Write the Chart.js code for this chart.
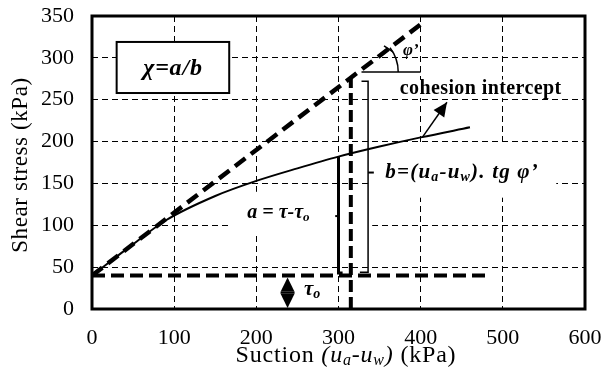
<!DOCTYPE html>
<html>
<head>
<meta charset="utf-8">
<script src="https://cdn.jsdelivr.net/npm/chart.js@4.4.1/dist/chart.umd.min.js"></script>
<style>
  html, body { margin: 0; padding: 0; background: #fff; }
</style>
</head>
<body>
<canvas id="chart" width="605" height="375"></canvas>
<script>
// values (kPa)
const xTickValues = [0, 100, 200, 300, 400, 500, 600];
const yTickValues = [0, 50, 100, 150, 200, 250, 300, 350];

const suction = [0, 50, 90, 150, 200, 250, 300, 350, 400, 460];
const shearStress = [40, 77.5, 106, 135, 153, 168, 182, 194, 205, 217];

const envelopeX = [0, 400];
const envelopeY = [40, 340];

const tau0 = 40;
const tau0LineX = [0, 480];

const suctionMark = 315;          // vertical dashed line
const suctionMarkTop = 276;
const bracketAX = 300;            // a = tau - tau0
const bracketATop = 182;
const bracketBX = 336;            // b = (ua-uw) tg phi
const bracketBTop = 272;
const phiRefY = 283;
const phiRefX = [328, 400];
const arrowFrom = [402, 205];
const arrowTo = [432, 247];
const tauArrowX = 238;

const SERIF = '"Liberation Serif", "Times New Roman", serif';

function pts(xs, ys) {
  return xs.map((x, i) => ({ x: x, y: ys[i] }));
}

function line(data, width, dash, extra) {
  return Object.assign({
    data: data,
    showLine: true,
    borderColor: '#000',
    borderWidth: width,
    borderDash: dash || [],
    pointRadius: 0,
    fill: false
  }, extra || {});
}

function richText(ctx, parts, x, y, align, spacing) {
  ctx.letterSpacing = (spacing || 0) + 'px';
  let w = 0;
  parts.forEach(p => { ctx.font = p[1]; w += ctx.measureText(p[0]).width; });
  let cx = align === 'center' ? x - w / 2 : x;
  ctx.textAlign = 'left';
  ctx.textBaseline = 'middle';
  parts.forEach(p => {
    ctx.font = p[1];
    ctx.fillText(p[0], cx, y + (p[2] || 0));
    cx += ctx.measureText(p[0]).width;
  });
  ctx.letterSpacing = '0px';
}

const BI = sz => 'italic bold ' + sz + 'px ' + SERIF;
const IT = sz => 'italic ' + sz + 'px ' + SERIF;
const RG = sz => sz + 'px ' + SERIF;

const decorations = {
  id: 'decorations',
  beforeDatasetsDraw(chart) {
    const { ctx, scales: { x, y } } = chart;
    const box = (x0, y0, x1, y1) => {
      const l = x.getPixelForValue(x0), r = x.getPixelForValue(x1);
      const t = y.getPixelForValue(y1), b = y.getPixelForValue(y0);
      ctx.fillRect(l, t, r - l, b - t);
    };
    ctx.save();
    ctx.fillStyle = '#fff';
    box(166, 92, 341, 140);   // behind a label
    box(336, 133, 565, 196);  // behind b label
    box(370, 252, 576, 274);  // behind cohesion intercept
    box(256, 12, 290, 34);    // behind tau0
    ctx.restore();
  },
  afterDatasetsDraw(chart) {
    const { ctx, scales: { x, y } } = chart;
    const px = v => x.getPixelForValue(v);
    const py = v => y.getPixelForValue(v);
    ctx.save();
    ctx.fillStyle = '#000';
    ctx.strokeStyle = '#000';

    // chi box
    const bl = px(30), br = px(167), bt = py(319), bb = py(258);
    ctx.fillStyle = '#fff';
    ctx.fillRect(bl, bt, br - bl, bb - bt);
    ctx.fillStyle = '#000';
    ctx.lineWidth = 2;
    ctx.strokeRect(bl, bt, br - bl, bb - bt);
    richText(ctx, [['\u03c7=a/b', BI(24)]], (bl + br) / 2, (bt + bb) / 2 + 1, 'center', 0.8);

    // labels
    richText(ctx, [['a = \u03c4-\u03c4', BI(20)], ['o', BI(13), 5]], px(189), py(115), 'left');
    richText(ctx, [['b=(u', BI(21)], ['a', BI(14), 5], ['-u', BI(21)], ['w', BI(14), 5], [').', BI(21)], [' tg \u03c6\u2019', BI(21)]], px(357), py(163), 'left', 1.2);
    richText(ctx, [['cohesion intercept', 'bold 20px ' + SERIF]], px(473), py(263), 'center', 0.4);
    richText(ctx, [['\u03c6\u2019', BI(17)]], px(388), py(309), 'center');
    richText(ctx, [['\u03c4', BI(21)], ['o', BI(14), 5]], px(258), py(23), 'left');

    // phi arc
    const cxp = px(324), cyp = py(phiRefY);
    const ang = Math.atan2(py(envelopeY[0]) - py(envelopeY[1]), px(envelopeX[1]) - px(envelopeX[0]));
    ctx.lineWidth = 1.5;
    ctx.beginPath();
    ctx.arc(cxp, cyp, 40, -ang, 0);
    ctx.stroke();
    const ex = cxp + 40 * Math.cos(-ang), ey = cyp + 40 * Math.sin(-ang);
    ctx.beginPath();
    ctx.moveTo(ex - 6, ey - 2); ctx.lineTo(ex + 3, ey + 4);
    ctx.stroke();

    // arrow head of cohesion intercept
    const ax0 = px(arrowFrom[0]), ay0 = py(arrowFrom[1]);
    const ax1 = px(arrowTo[0]), ay1 = py(arrowTo[1]);
    const a = Math.atan2(ay1 - ay0, ax1 - ax0);
    const hl = 14, hw = 6.5;
    ctx.beginPath();
    ctx.moveTo(ax1, ay1);
    ctx.lineTo(ax1 - hl * Math.cos(a) + hw * Math.sin(a), ay1 - hl * Math.sin(a) - hw * Math.cos(a));
    ctx.lineTo(ax1 - hl * Math.cos(a) - hw * Math.sin(a), ay1 - hl * Math.sin(a) + hw * Math.cos(a));
    ctx.closePath();
    ctx.fill();

    // tau0 double arrow
    const tx = px(tauArrowX), tt = py(tau0) + 2, tb = py(0) - 1, tm = (tt + tb) / 2;
    ctx.beginPath();
    ctx.moveTo(tx, tt); ctx.lineTo(tx + 7, tm - 1); ctx.lineTo(tx - 7, tm - 1); ctx.closePath();
    ctx.fill();
    ctx.beginPath();
    ctx.moveTo(tx, tb); ctx.lineTo(tx + 7, tm + 1); ctx.lineTo(tx - 7, tm + 1); ctx.closePath();
    ctx.fill();
    ctx.lineWidth = 2;
    ctx.beginPath(); ctx.moveTo(tx - 7, tm); ctx.lineTo(tx + 7, tm); ctx.stroke();

    ctx.restore();
  },
  afterDraw(chart) {
    const { ctx, chartArea: c } = chart;
    ctx.save();
    ctx.strokeStyle = '#000';
    ctx.lineWidth = 3;
    ctx.strokeRect(c.left, c.top, c.right - c.left, c.bottom - c.top);

    ctx.fillStyle = '#000';
    richText(ctx, [['Suction ', RG(24)], ['(u', IT(24)], ['a', IT(16), 5], ['-u', IT(24)], ['w', IT(16), 5], [')', IT(24)], [' (kPa)', RG(24)]], 346, 356, 'center', 0.8);

    ctx.translate(21, 165);
    ctx.rotate(-Math.PI / 2);
    ctx.font = RG(23);
    ctx.letterSpacing = '0.6px';
    ctx.textAlign = 'center';
    ctx.textBaseline = 'middle';
    ctx.fillText('Shear stress (kPa)', 0, 0);
    ctx.restore();
  }
};

const gridOpts = { color: '#000', lineWidth: 1, drawTicks: false };
const tickFont = { family: SERIF, size: 22 };

new Chart(document.getElementById('chart'), {
  type: 'scatter',
  data: {
    datasets: [
      line(pts(suction, shearStress), 2, [], { tension: 0.4, cubicInterpolationMode: 'monotone' }),
      line(pts(envelopeX, envelopeY), 4.5, [13, 7]),
      line(pts(tau0LineX, [tau0, tau0]), 4, [13, 6]),
      line(pts([suctionMark, suctionMark], [0, suctionMarkTop]), 4, [12, 5]),
      line(pts([bracketAX, bracketAX, bracketAX + 5], [bracketATop, tau0 + 3, tau0 + 3]), 3),
      line(pts([bracketAX - 4, bracketAX], [111, 111]), 2),
      line(pts([bracketBX - 8, bracketBX, bracketBX, bracketBX - 10], [bracketBTop, bracketBTop, tau0 + 4, tau0 + 4]), 1.5),
      line(pts([bracketBX, bracketBX + 7], [163, 163]), 2),
      line(pts(phiRefX, [phiRefY, phiRefY]), 1.5),
      line(pts([arrowFrom[0], arrowTo[0]], [arrowFrom[1], arrowTo[1]]), 1.5)
    ]
  },
  options: {
    responsive: false,
    animation: false,
    layout: { padding: { left: 0, top: 16, right: 20, bottom: 0 } },
    plugins: { legend: { display: false }, tooltip: { enabled: false } },
    scales: {
      x: {
        type: 'linear', min: 0, max: 600,
        afterBuildTicks: s => { s.ticks = xTickValues.map(v => ({ value: v })); },
        afterFit: s => { s.height = 66; s.paddingLeft = 0; s.paddingRight = 0; },
        ticks: { color: '#000', font: tickFont, padding: 16 },
        grid: gridOpts,
        border: { display: false, dash: [6, 4] }
      },
      y: {
        type: 'linear', min: 0, max: 350,
        afterBuildTicks: s => { s.ticks = yTickValues.map(v => ({ value: v })); },
        afterFit: s => { s.width = 92; s.paddingTop = 0; s.paddingBottom = 0; },
        ticks: { color: '#000', font: tickFont, padding: 18 },
        grid: gridOpts,
        border: { display: false, dash: [6, 4] }
      }
    }
  },
  plugins: [decorations]
});
</script>
</body>
</html>
